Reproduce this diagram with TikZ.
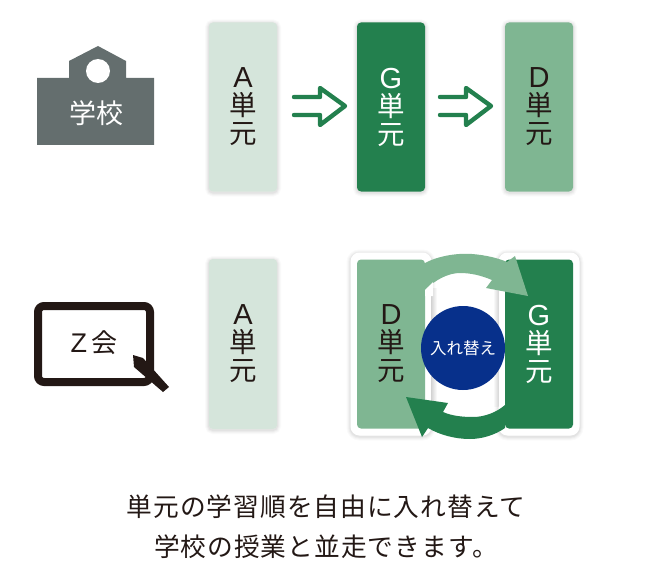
\documentclass[tikz,border=0pt]{standalone}
\usepackage{fontspec}
\usetikzlibrary{calc,positioning}
\setmainfont{Noto Sans CJK JP}
\newfontfamily\capfont[LetterSpace=4]{Noto Sans CJK JP}
\newfontfamily\latinf{Liberation Sans}
\definecolor{dkgreen}{HTML}{23804E}
\definecolor{mdgreen}{HTML}{7FB692}
\definecolor{ltgreen}{HTML}{D5E5DB}
\definecolor{navy}{HTML}{07308B}
\definecolor{slate}{HTML}{646E6E}
\definecolor{inkc}{HTML}{231815}
\newcommand{\stacklabel}[1]{{\latinf\fontsize{29}{28}\selectfont #1}\\単\\元}
\tikzset{
  softshadow/.style={
    preaction={draw=black,opacity=.02,line width=8pt,transform canvas={yshift=-1pt}},
    preaction={draw=black,opacity=.025,line width=6pt,transform canvas={yshift=-1pt}},
    preaction={draw=black,opacity=.03,line width=4pt,transform canvas={yshift=-1pt}},
    preaction={draw=black,opacity=.04,line width=2pt,transform canvas={yshift=-1pt}}},
  unit/.style={rectangle,rounded corners=4pt,minimum width=68pt,minimum height=169pt,
    inner sep=0pt,align=center,text=inkc,font=\fontsize{27.5}{28}\selectfont},
  shadowunit/.style={unit,softshadow},
  frameb/.style={rectangle,rounded corners=9pt,fill=white,inner sep=0pt,minimum height=183pt,minimum width=81pt,softshadow},
  hollow/.pic={
    \draw[dkgreen,line width=4.4pt,line cap=round,line join=round]
      (-23,-10)--(3,-10)--(3,-19)--(28,-1)--(3,18)--(3,8)--(-23,8);
  }
}
\begin{document}
\begin{tikzpicture}[x=1pt,y=-1pt]
\useasboundingbox (0,0) rectangle (648,567);
% school icon
\fill[slate] (37,78)--(69,78)--(69,61)--(98,46)--(126,61)--(126,78)--(154,78)--(154,145)--(37,145)--cycle;
\fill[white] (98,71) circle[radius=12];
\node[text=white,font=\fontsize{27}{27}\selectfont,inner sep=0pt] (school) at (96,113) {学校};
% top row
\node[shadowunit,fill=ltgreen] (a1) at (243,107) {\stacklabel{A}};
\node[shadowunit,fill=dkgreen,text=white] (g1) at (391,107) {\stacklabel{G}};
\node[shadowunit,fill=mdgreen] (d1) at (539,107) {\stacklabel{D}};
\pic at ($(a1.east)!.5!(g1.west)$) {hollow};
\pic[xshift=-2pt] at ($(g1.east)!.5!(d1.west)$) {hollow};
% Z-kai icon
\draw[inkc,line width=8pt,rounded corners=6pt] (38,306) rectangle (150,382);
\fill[inkc] (133,355)--(143,358)--(169,387)--(163,392)--(134,367)--cycle;
\node[text=inkc,font=\fontsize{26}{26}\selectfont,inner sep=0pt] (zkai) at (94,343) {{\latinf\fontsize{27}{27}\selectfont Z}\,会};
% bottom row
\node[shadowunit,fill=ltgreen,minimum height=170pt] (a2) at (243,344) {\stacklabel{A}};
\node[frameb] (fd) at (391,344) {};
\node[frameb] (fg) at (539,344) {};
\shade[left color=black!16,right color=white] (431.5,288) rectangle (437,404);
\shade[left color=white,right color=black!16] (493,290) rectangle (498.5,406);
\node[unit,fill=mdgreen] (d2) at (391,344) {\stacklabel{D}};
\node[unit,fill=dkgreen,text=white] (g2) at (539,344) {\stacklabel{G}};
% exchange arrows
\fill[mdgreen] (425,263) .. controls (440,255) and (460,253) .. (472,254)
  .. controls (485,255) and (498,258) .. (507,262)
  -- (515,256) -- (528,296) -- (486,288) -- (492,280)
  .. controls (480,275) and (470,273) .. (460,273)
  .. controls (448,273) and (435,280) .. (425,290) -- cycle;
\fill[white] (425,290) -- (433,282) -- (433,296) -- (425,296) -- cycle;
\fill[dkgreen] (406,397) -- (448,403) -- (443,412)
  .. controls (452,416) and (463,417) .. (473,417)
  .. controls (485,417) and (497,412) .. (505,405)
  -- (505,428)
  .. controls (495,435) and (482,439) .. (470,439)
  .. controls (455,439) and (440,435) .. (428,428)
  -- (422,437) -- cycle;
\node[circle,fill=navy,minimum size=84pt,inner sep=0pt,text=white,font=\fontsize{16.5}{16.5}\selectfont] (swap) at (463,348) {入れ替え};
% caption
\node[inner sep=0pt,align=center,text=inkc,font=\capfont\fontsize{25.7}{40}\selectfont] (cap) at (326,527) {単元の学習順を自由に入れ替えて\\学校の授業と並走できます。};
\end{tikzpicture}
\end{document}
